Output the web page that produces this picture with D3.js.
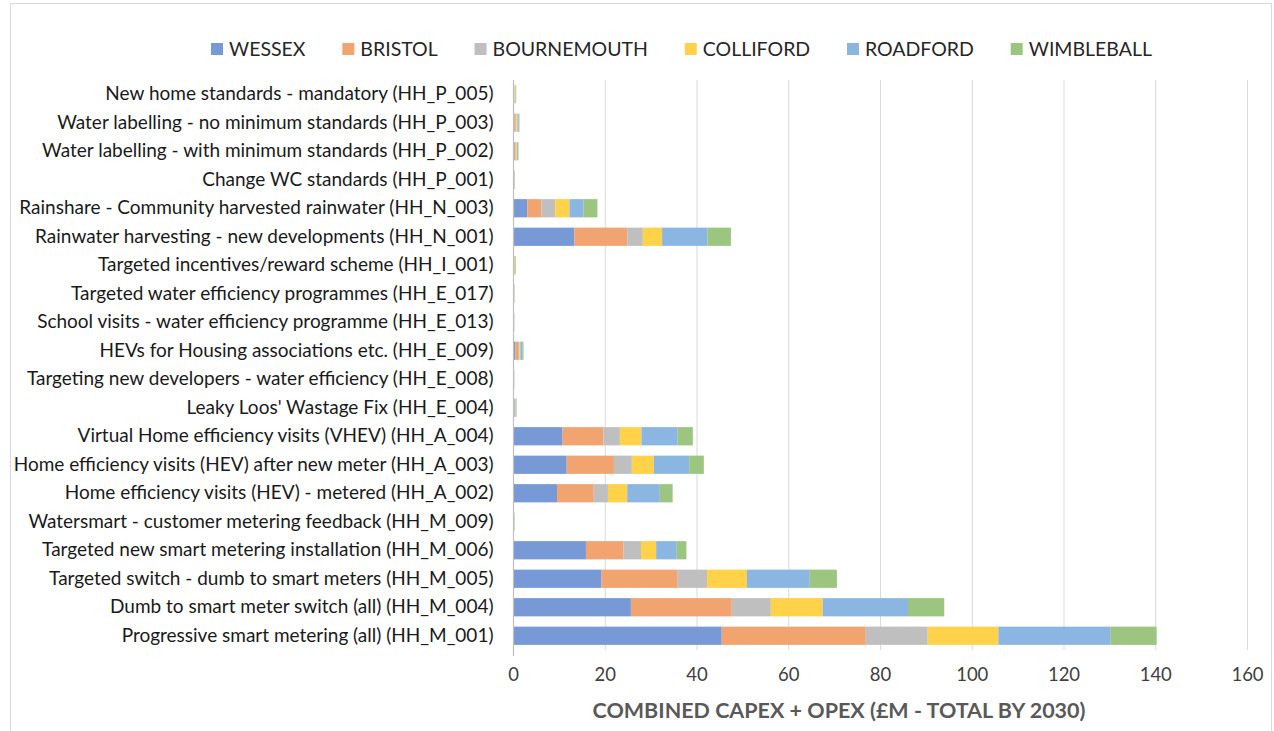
<!DOCTYPE html>
<html>
<head>
<meta charset="utf-8">
<script src="https://cdn.jsdelivr.net/npm/d3@7"></script>
<style>
  html, body { margin: 0; padding: 0; background: #ffffff; }
  svg { display: block; }
</style>
</head>
<body>
<svg id="chart" width="1274" height="731"></svg>
<script>
// Demand-management options, listed top to bottom
const categories = [
  "New home standards - mandatory (HH_P_005)",
  "Water labelling - no minimum standards (HH_P_003)",
  "Water labelling - with minimum standards (HH_P_002)",
  "Change WC standards (HH_P_001)",
  "Rainshare - Community harvested rainwater (HH_N_003)",
  "Rainwater harvesting - new developments (HH_N_001)",
  "Targeted incentives/reward scheme (HH_I_001)",
  "Targeted water efficiency programmes (HH_E_017)",
  "School visits - water efficiency programme (HH_E_013)",
  "HEVs for Housing associations etc. (HH_E_009)",
  "Targeting new developers - water efficiency (HH_E_008)",
  "Leaky Loos' Wastage Fix (HH_E_004)",
  "Virtual Home efficiency visits (VHEV) (HH_A_004)",
  "Home efficiency visits (HEV) after new meter (HH_A_003)",
  "Home efficiency visits (HEV) - metered (HH_A_002)",
  "Watersmart - customer metering feedback (HH_M_009)",
  "Targeted new smart metering installation (HH_M_006)",
  "Targeted switch - dumb to smart meters (HH_M_005)",
  "Dumb to smart meter switch (all) (HH_M_004)",
  "Progressive smart metering (all) (HH_M_001)"
];

const seriesNames = ["WESSEX", "BRISTOL", "BOURNEMOUTH", "COLLIFORD", "ROADFORD", "WIMBLEBALL"];

// Combined capex + opex, £M total by 2030, one value per category (same order as above)
const wessex      = [0.10, 0.25, 0.20, 0.05, 3.1, 13.4, 0.05, 0.05, 0.05, 0.50, 0.05, 0.05, 10.8, 11.7, 9.6, 0.05, 15.9, 19.3, 25.7, 45.5];
const bristol     = [0.20, 0.35, 0.35, 0.05, 3.1, 11.5, 0.10, 0.05, 0.05, 0.60, 0.05, 0.10,  8.9, 10.3, 8.0, 0.05,  8.2, 16.6, 22.0, 31.4];
const bournemouth = [0.05, 0.15, 0.15, 0.10, 3.0,  3.4, 0.05, 0.10, 0.05, 0.25, 0.05, 0.45,  3.6,  3.9, 3.1, 0.05,  3.8,  6.4,  8.5, 13.5];
const colliford   = [0.15, 0.20, 0.15, 0.05, 3.1,  4.2, 0.20, 0.05, 0.05, 0.25, 0.05, 0.05,  4.7,  4.8, 4.2, 0.05,  3.3,  8.7, 11.3, 15.4];
const roadford    = [0.05, 0.30, 0.20, 0.05, 3.1,  9.9, 0.05, 0.05, 0.05, 0.50, 0.05, 0.10,  7.9,  7.7, 7.1, 0.05,  4.5, 13.7, 18.6, 24.5];
const wimbleball  = [0.15, 0.15, 0.15, 0.10, 3.0,  5.1, 0.15, 0.05, 0.05, 0.20, 0.05, 0.05,  3.3,  3.2, 2.8, 0.10,  2.1,  5.9,  7.9, 10.0];

const xTicks = [0, 20, 40, 60, 80, 100, 120, 140, 160];
const xTitle = "COMBINED CAPEX + OPEX (£M - TOTAL BY 2030)";

const colors = ["#7799d6", "#f1a470", "#bfbfbf", "#ffd24a", "#8bb6e1", "#9cc57f"];

// Build rows for the stack layout
const seriesValues = [wessex, bristol, bournemouth, colliford, roadford, wimbleball];
const rows = categories.map((c, i) => {
  const r = { category: c };
  seriesNames.forEach((s, j) => { r[s] = seriesValues[j][i]; });
  return r;
});
const stacked = d3.stack().keys(seriesNames)(rows);

const svg = d3.select("#chart");
const W = 1274, H = 731;
const margin = { left: 513, right: 27, top: 80, bottom: 81 };

// Outer chart frame
svg.append("rect")
  .attr("x", 10.5).attr("y", 3.5)
  .attr("width", W - 13).attr("height", H + 5)
  .attr("fill", "#ffffff")
  .attr("stroke", "#d9d9d9")
  .attr("stroke-width", 1);

const x = d3.scaleLinear().domain([0, 160]).range([margin.left, W - margin.right]);
const y = d3.scaleBand().domain(categories)
  .range([margin.top, H - margin.bottom])
  .paddingInner(0.36).paddingOuter(0.18);

const font = "Lato, 'Open Sans', sans-serif";

// Vertical gridlines
svg.append("g")
  .selectAll("line")
  .data(xTicks.filter(t => t > 0))
  .join("line")
  .attr("x1", d => x(d) + 0.5).attr("x2", d => x(d) + 0.5)
  .attr("y1", margin.top).attr("y2", H - margin.bottom)
  .attr("stroke", "#d9d9d9").attr("stroke-width", 1);

// Stacked bars
svg.append("g")
  .selectAll("g")
  .data(stacked)
  .join("g")
  .attr("fill", (d, i) => colors[i])
  .selectAll("rect")
  .data(d => d)
  .join("rect")
  .attr("x", d => x(d[0]))
  .attr("width", d => Math.max(0, x(d[1]) - x(d[0])))
  .attr("y", d => y(d.data.category))
  .attr("height", y.bandwidth());

// Category axis (left)
const yAxis = svg.append("g")
  .attr("transform", `translate(${margin.left + 0.5},0)`)
  .call(d3.axisLeft(y).tickSize(0).tickPadding(20));
yAxis.select(".domain").attr("stroke", "#bfbfbf").attr("stroke-width", 1.2)
  .attr("d", `M0,${margin.top}V${H - margin.bottom + 6}`);
yAxis.selectAll("text")
  .attr("font-family", font)
  .attr("font-size", 19)
  .attr("fill", "#1a1a1a");

// Value axis (bottom)
const xAxis = svg.append("g")
  .attr("transform", `translate(0,${H - margin.bottom})`)
  .call(d3.axisBottom(x).tickValues(xTicks).tickFormat(d3.format("d")).tickSize(0).tickPadding(18));
xAxis.select(".domain").remove();
xAxis.selectAll("text")
  .attr("font-family", font)
  .attr("font-size", 18.5)
  .attr("fill", "#404040");

// Axis title
svg.append("text")
  .attr("x", 839).attr("y", 718)
  .attr("text-anchor", "middle")
  .attr("font-family", font)
  .attr("font-size", 21.5)
  .attr("font-weight", "bold")
  .attr("fill", "#595959")
  .text(xTitle);

// Legend, spread across the top
const legend = svg.append("g");
const items = legend.selectAll("g").data(seriesNames).join("g");
items.append("rect")
  .attr("width", 12).attr("height", 12)
  .attr("y", -6)
  .attr("fill", (d, i) => colors[i]);
items.append("text")
  .attr("x", 18).attr("y", 0)
  .attr("dy", "0.35em")
  .attr("font-family", font)
  .attr("font-size", 19.5)
  .attr("fill", "#262626")
  .text(d => d);
const widths = items.nodes().map(n => 18 + n.querySelector("text").getComputedTextLength());
const startX = 211, endX = 1152;
const gap = (endX - startX - d3.sum(widths)) / (seriesNames.length - 1);
let cx = startX;
items.each(function(d, i) {
  d3.select(this).attr("transform", `translate(${cx},49)`);
  cx += widths[i] + gap;
});
</script>
</body>
</html>
